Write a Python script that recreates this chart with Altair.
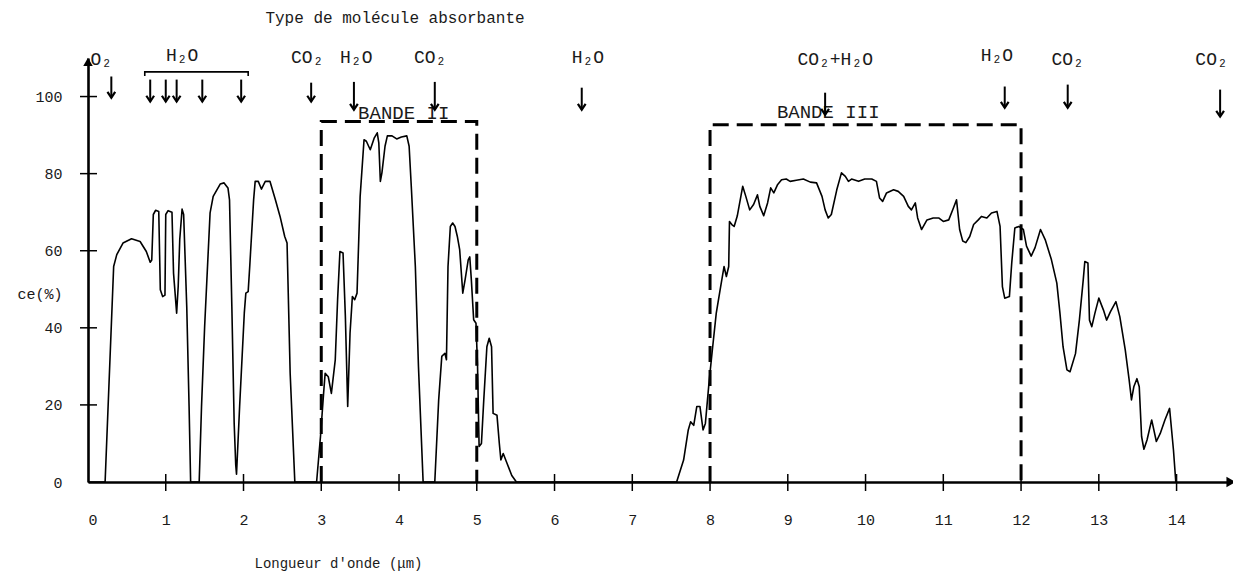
import altair as alt
import pandas as pd

# ---- transmission curve ----
wavelength = [0.00, 0.22, 0.33, 0.37, 0.45, 0.56, 0.67, 0.75, 0.80, 0.82, 0.84, 0.87, 0.91, 0.93, 0.96, 0.99,
              1.00, 1.03, 1.08, 1.10, 1.11, 1.14, 1.16, 1.18, 1.21, 1.23, 1.27, 1.30, 1.32, 1.43, 1.46, 1.50,
              1.57, 1.61, 1.70, 1.75, 1.80, 1.82, 1.85, 1.88, 1.90, 1.91, 1.95, 2.01, 2.03, 2.06, 2.08, 2.13,
              2.15, 2.19, 2.23, 2.28, 2.34, 2.41, 2.47, 2.53, 2.56, 2.60, 2.66, 2.94, 2.99, 3.03, 3.05, 3.09,
              3.13, 3.18, 3.21, 3.24, 3.28, 3.31, 3.34, 3.37, 3.40, 3.43, 3.46, 3.50, 3.55, 3.58, 3.63, 3.68,
              3.72, 3.74, 3.76, 3.78, 3.82, 3.85, 3.91, 3.97, 4.03, 4.10, 4.13, 4.16, 4.21, 4.25, 4.31, 4.46,
              4.51, 4.55, 4.59, 4.61, 4.63, 4.66, 4.69, 4.72, 4.75, 4.78, 4.82, 4.85, 4.89, 4.91, 4.93, 4.96,
              4.99, 5.01, 5.03, 5.06, 5.09, 5.13, 5.16, 5.19, 5.21, 5.26, 5.29, 5.31, 5.34, 5.39, 5.45, 5.51,
              7.57, 7.66, 7.72, 7.75, 7.79, 7.83, 7.87, 7.91, 7.94, 7.99, 8.03, 8.08, 8.13, 8.18, 8.21, 8.24,
              8.25, 8.28, 8.31, 8.35, 8.42, 8.46, 8.51, 8.56, 8.61, 8.64, 8.69, 8.74, 8.78, 8.82, 8.87, 8.92,
              8.98, 9.03, 9.11, 9.20, 9.29, 9.37, 9.44, 9.48, 9.52, 9.56, 9.63, 9.69, 9.74, 9.78, 9.82, 9.91,
              9.99, 10.08, 10.14, 10.18, 10.22, 10.27, 10.36, 10.42, 10.49, 10.55, 10.59, 10.64, 10.67, 10.72,
              10.79, 10.87, 10.94, 11.00, 11.07, 11.13, 11.17, 11.21, 11.25, 11.29, 11.34, 11.39, 11.45, 11.49,
              11.56, 11.62, 11.69, 11.73, 11.76, 11.79, 11.85, 11.88, 11.92, 11.97, 12.03, 12.07, 12.13, 12.18,
              12.25, 12.31, 12.39, 12.46, 12.50, 12.54, 12.59, 12.63, 12.70, 12.75, 12.80, 12.82, 12.86, 12.88,
              12.91, 12.95, 13.00, 13.06, 13.10, 13.15, 13.22, 13.27, 13.34, 13.39, 13.42, 13.45, 13.49, 13.52,
              13.55, 13.58, 13.62, 13.68, 13.74, 13.79, 13.85, 13.91, 13.96, 13.99]
transmission = [0, 0, 55.9, 59.0, 62.0, 63.1, 62.4, 59.8, 57.0, 57.6, 69.4, 70.5, 70.2, 49.9, 48.1, 48.5,
                69.4, 70.4, 70.0, 54.2, 51.6, 43.8, 50.7, 62.9, 70.8, 69.4, 45.5, 19.6, 0, 0, 19.6, 40.3,
                69.8, 74.1, 77.3, 77.6, 76.3, 73.2, 45.5, 15.2, 4.4, 2.0, 19.6, 43.8, 49.0, 49.4, 55.9, 73.2,
                78.0, 78.0, 76.0, 78.0, 78.0, 73.2, 68.9, 63.7, 62.0, 28.2, 0, 0, 11.8, 23.0, 28.2, 27.3,
                23.0, 31.7, 47.3, 59.8, 59.4, 42.9, 19.6, 38.6, 48.1, 47.3, 49.0, 74.1, 88.8, 88.4, 86.2, 89.2,
                90.6, 88.0, 78.0, 80.2, 87.1, 89.8, 89.8, 89.0, 89.5, 89.8, 87.1, 75.8, 55.9, 30.0, 0, 0,
                21.3, 32.6, 33.4, 31.7, 55.9, 66.3, 67.2, 66.3, 63.7, 60.3, 49.0, 52.5, 57.6, 58.4, 52.5, 42.1,
                41.2, 30.0, 9.2, 10.0, 21.3, 35.1, 37.3, 35.1, 17.8, 17.3, 10.0, 5.7, 7.4, 4.8, 1.7, 0,
                0, 5.7, 13.5, 15.6, 14.7, 19.6, 19.6, 13.5, 15.2, 26.5, 34.3, 43.8, 49.9, 55.9, 53.3, 55.9,
                67.6, 66.8, 66.3, 69.0, 76.7, 74.1, 70.6, 72.0, 74.5, 71.5, 69.1, 72.4, 76.3, 75.0, 77.2, 78.4,
                78.6, 78.0, 78.3, 78.6, 77.8, 77.6, 74.1, 70.6, 68.5, 69.4, 75.8, 80.2, 79.3, 78.0, 78.6, 78.0,
                78.6, 78.6, 78.0, 73.7, 72.8, 75.0, 75.8, 75.4, 74.1, 71.5, 70.6, 72.4, 68.5, 65.5,
                68.0, 68.5, 68.5, 67.6, 68.0, 71.1, 73.2, 65.5, 62.5, 62.1, 63.7, 66.8, 68.0, 68.9,
                68.5, 69.8, 70.2, 66.3, 50.7, 47.7, 48.1, 56.8, 65.9, 66.3, 65.5, 61.2, 58.6, 60.8,
                65.5, 62.9, 57.7, 51.6, 43.8, 35.1, 29.1, 28.6, 33.3, 42.0, 52.5, 57.2, 56.8, 42.0,
                40.3, 43.8, 47.7, 44.6, 42.0, 44.2, 46.8, 42.9, 34.3, 26.5, 21.3, 24.7, 26.8, 24.7,
                11.8, 8.5, 10.9, 16.1, 10.5, 12.6, 16.1, 19.1, 8.3, 0]

# ---- axes ----
x_label_values = list(range(0, 15))
y_label_values = [0, 20, 40, 60, 80, 100]
x_tick_values = list(range(1, 15))
y_tick_values = [20, 40, 60, 80, 100]

# ---- spectral bands ----
band_names = ["BANDE II", "BANDE III"]
band_start = [3.0, 8.0]
band_end = [5.0, 12.0]
band_top = [93.5, 92.7]
band_label_x = [4.06, 9.52]
band_label_y = [95.8, 96.0]

# ---- absorbing molecules ----
mol_text = ["O₂", "H₂O", "CO₂", "H₂O", "CO₂", "H₂O", "CO₂+H₂O", "H₂O", "CO₂", "CO₂"]
mol_x = [0.17, 1.21, 2.82, 3.45, 4.40, 6.43, 9.61, 11.69, 12.60, 14.45]
mol_y = [109.6, 110.4, 110.1, 110.1, 110.1, 110.1, 109.6, 110.4, 109.6, 109.6]

arrow_x = [0.30, 0.80, 1.00, 1.14, 1.47, 1.97, 2.87, 3.42, 4.46, 6.35, 9.48, 11.79, 12.60, 14.56]
arrow_tail = [105.2, 104.4, 104.4, 104.4, 104.4, 104.4, 103.6, 103.8, 103.8, 102.3, 101.0, 102.6, 103.1, 101.8]
arrow_tip = [99.7, 98.7, 98.7, 98.7, 98.7, 98.7, 98.7, 96.6, 96.6, 96.6, 95.3, 97.1, 97.1, 94.8]

bracket_x = [0.73, 0.73, 2.06, 2.06]
bracket_y = [105.3, 106.4, 106.4, 105.3]

FONT = "Liberation Mono"
INK = "#1a1a1a"
W, H = 1143, 424

xs = alt.Scale(domain=[0, 14.7], nice=False)
ys = alt.Scale(domain=[0, 110], nice=False)

curve_df = pd.DataFrame({"wl": wavelength, "tr": transmission, "i": range(len(wavelength))})

curve = alt.Chart(curve_df).mark_line(color="black", strokeWidth=1.6, strokeJoin="round").encode(
    x=alt.X("wl:Q", scale=xs, axis=alt.Axis(
        values=x_label_values, format="d", ticks=False, grid=False, domainColor="black", domainWidth=2.6,
        labelFont=FONT, labelFontSize=15, labelColor=INK, labelPadding=30, labelBaseline="top",
        title="Longueur d'onde (μm)", titleFont=FONT, titleFontSize=14, titleFontWeight="normal",
        titleColor=INK, titleX=250, titleY=81, titleBaseline="middle", titleAlign="center")),
    y=alt.Y("tr:Q", scale=ys, axis=alt.Axis(
        values=y_label_values, format="d", ticks=False, grid=False, domainColor="black", domainWidth=2.6,
        labelFont=FONT, labelFontSize=15, labelColor=INK, labelPadding=26,
        title="ce(%)", titleFont=FONT, titleFontSize=15, titleFontWeight="normal",
        titleColor=INK, titleAngle=0, titleAlign="right", titleBaseline="middle",
        titleX=-26, titleY=235)),
    order="i:Q",
)

xt = alt.Chart(pd.DataFrame({"v": x_tick_values})).mark_rule(color="black", strokeWidth=1.5).encode(
    x=alt.X("v:Q", scale=xs), y=alt.value(H - 8), y2=alt.value(H + 9))
yt = alt.Chart(pd.DataFrame({"v": y_tick_values})).mark_rule(color="black", strokeWidth=1.5).encode(
    y=alt.Y("v:Q", scale=ys), x=alt.value(-8), x2=alt.value(9))

band_rows = []
for name, s, e, t in zip(band_names, band_start, band_end, band_top):
    band_rows += [
        {"band": name, "k": 0, "x": s, "y": 0},
        {"band": name, "k": 1, "x": s, "y": t},
        {"band": name, "k": 2, "x": e, "y": t},
        {"band": name, "k": 3, "x": e, "y": 0},
    ]
bands = alt.Chart(pd.DataFrame(band_rows)).mark_line(
    color="black", strokeWidth=3, strokeDash=[16, 8]).encode(
    x=alt.X("x:Q", scale=xs), y=alt.Y("y:Q", scale=ys), detail="band:N", order="k:Q")

band_labels = alt.Chart(pd.DataFrame({"t": band_names, "x": band_label_x, "y": band_label_y})).mark_text(
    font=FONT, fontSize=19, color=INK, align="center", baseline="middle").encode(
    x=alt.X("x:Q", scale=xs), y=alt.Y("y:Q", scale=ys), text="t:N")

mol_labels = alt.Chart(pd.DataFrame({"t": mol_text, "x": mol_x, "y": mol_y})).mark_text(
    font=FONT, fontSize=18, color=INK, align="center", baseline="middle").encode(
    x=alt.X("x:Q", scale=xs), y=alt.Y("y:Q", scale=ys), text="t:N")

arrow_df = pd.DataFrame({"x": arrow_x, "a": arrow_tail, "b": arrow_tip})
shafts = alt.Chart(arrow_df).mark_rule(color="black", strokeWidth=2).encode(
    x=alt.X("x:Q", scale=xs), y=alt.Y("a:Q", scale=ys), y2="b:Q")
heads = alt.Chart(arrow_df).mark_point(
    shape="M-1,-1.5L0,0L1,-1.5", filled=False, color="black", strokeWidth=2.2, size=60, opacity=1).encode(
    x=alt.X("x:Q", scale=xs), y=alt.Y("b:Q", scale=ys))

bracket = alt.Chart(pd.DataFrame({"x": bracket_x, "y": bracket_y, "k": range(4)})).mark_line(
    color="black", strokeWidth=1.6).encode(
    x=alt.X("x:Q", scale=xs), y=alt.Y("y:Q", scale=ys), order="k:Q")

title = alt.Chart(pd.DataFrame({"t": ["Type de molécule absorbante"]})).mark_text(
    font=FONT, fontSize=16, color=INK, align="center", baseline="middle").encode(
    x=alt.value(307), y=alt.value(-40), text="t:N")

x_arrow = alt.Chart(pd.DataFrame({"t": [0]})).mark_point(
    shape="triangle-right", filled=True, color="black", size=110, opacity=1).encode(
    x=alt.datum(14.7, scale=xs), y=alt.datum(0, scale=ys))
y_arrow = alt.Chart(pd.DataFrame({"t": [0]})).mark_point(
    shape="triangle-up", filled=True, color="black", size=90, opacity=1).encode(
    x=alt.datum(0, scale=xs), y=alt.datum(109, scale=ys))

chart = alt.layer(
    curve, bands, xt, yt, band_labels, mol_labels, shafts, heads, bracket, title, x_arrow, y_arrow
).properties(
    width=W, height=H,
    autosize=alt.AutoSizeParams(type="none"),
    padding={"left": 80, "top": 50, "right": 2, "bottom": 90},
    background="white",
).configure_view(stroke=None)

chart.save("out.html", embed_options={"renderer": "svg", "actions": False})
